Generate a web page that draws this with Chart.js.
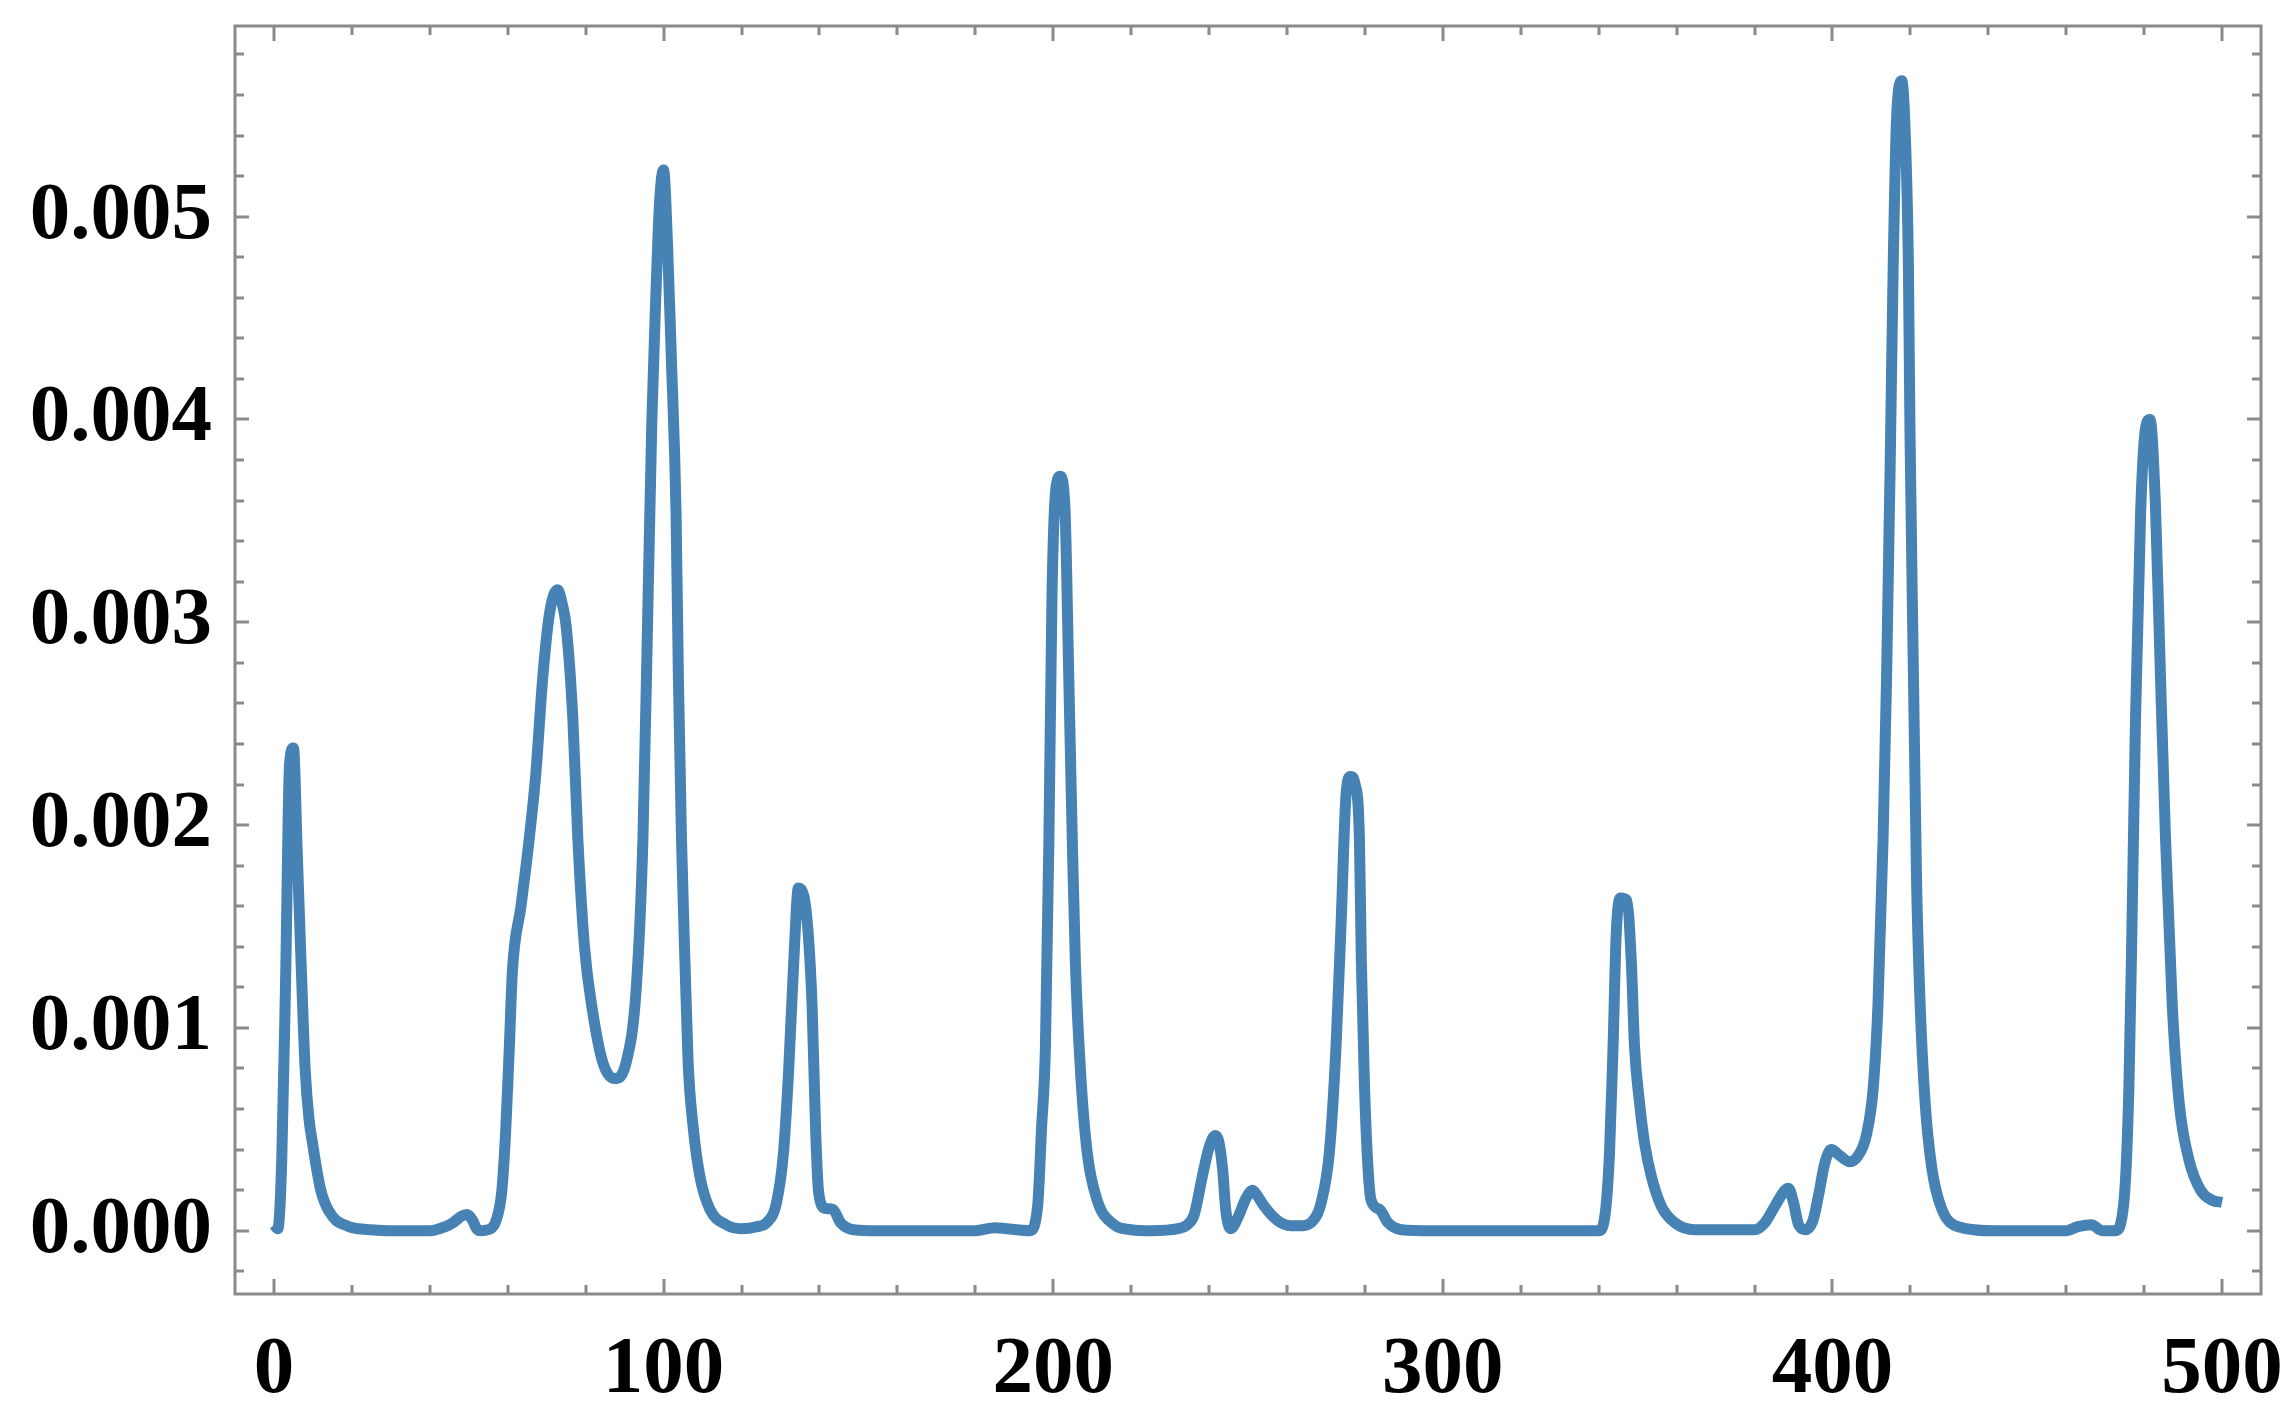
<!DOCTYPE html>
<html lang="en">
<head>
    <meta charset="UTF-8">
    <title>Signal</title>
    <script src="https://cdn.jsdelivr.net/npm/chart.js"></script>
    <style>
        body { margin: 0; background: #fff; }
        #wrap { width: 2296px; height: 1412px; }
    </style>
</head>
<body>
    <div id="wrap">
        <canvas id="signalChart" width="2296" height="1412"></canvas>
    </div>

    <script>
        // values (y in absolute units)
        const xValues = [
            0, 1, 2, 3, 4, 5, 6, 7, 8, 9, 10, 11, 12, 13, 14, 16, 18, 20, 25, 30,
            40, 44, 46, 48, 49.5, 51, 52, 53, 55, 57, 58.5, 59.5, 60.4, 61.2, 63.4, 65.5, 67.2, 69, 70.7, 72.8,
            74, 75, 76.7, 78, 79.7, 81.8, 84.4, 87.4, 90.4, 93, 94.7, 96, 97, 98, 99, 100, 101, 102, 103.2, 103.8,
            104.6, 105.5, 106.3, 107.6, 109.3, 111.9, 116, 120, 124, 126.5, 129, 130.8, 132.1, 133.4, 134.6, 136, 138.1, 139, 139.8, 141.5,
            143.5, 145.4, 148.8, 155, 180, 185, 188, 194, 196, 197, 198, 198.9, 199.7, 200.7, 201.8, 203, 204, 204.9, 205.7, 207,
            208.7, 211.3, 215.6, 220, 225, 232, 234.5, 236.2, 238.3, 240, 241.6, 242.5, 243.5, 244.3, 245.6, 247.3, 249.5, 251.2, 252.5, 254.2,
            257.6, 261, 264, 266.2, 268.8, 270.9, 272.6, 273.9, 275.2, 276.3, 277.5, 278.6, 279.1, 279.9, 280.8, 281.6, 283.8, 285.9, 289.4, 297,
            340, 341.5, 342.8, 343.7, 344.5, 345.6, 347.2, 348.4, 349.2, 350.5, 351.8, 353.5, 356.1, 359.5, 364.7, 380, 382.7, 385.2, 387.8, 388.7,
            390, 391.3, 393, 395, 396.5, 398, 399.7, 401.9, 404.5, 406.6, 408.7, 410.5, 411.7, 413, 413.9, 414.8, 415.6, 416.5, 417.8, 418.8,
            419.5, 419.9, 420.8, 421.6, 422.5, 423.8, 425.5, 428, 432.3, 442, 460, 463, 466.5, 469.2, 472.6, 474.8, 476.1, 476.9, 477.8, 479.1,
            480.4, 481.5, 482.9, 484.2, 485.5, 487.2, 489, 491.5, 494.5, 497.5, 500
        ];
        const yValues = [
            0.00003, 0.00001, 0.00035, 0.00125, 0.0023, 0.00238, 0.00185, 0.0013, 0.0008, 0.00055, 0.00042, 0.0003, 0.0002, 0.00014, 0.0001, 0.00005, 0.00003, 0.000015, 0.000005, 0,
            0, 0.00002, 0.00004, 0.00007, 0.00008, 0.00005, 0.00001, 0, 0.000005, 0.00005, 0.0002, 0.0005, 0.0009, 0.00128, 0.0016, 0.00193, 0.00225, 0.00273, 0.00304, 0.00316,
            0.00309, 0.00298, 0.00253, 0.00193, 0.0014, 0.00108, 0.00083, 0.00075, 0.00083, 0.0012, 0.00193, 0.0031, 0.004, 0.0046, 0.00508, 0.00523, 0.00487, 0.0043, 0.00354, 0.00273,
            0.00193, 0.00132, 0.00083, 0.00051, 0.00027, 0.000105, 0.00003, 0.00001, 0.00002, 0.00004, 0.00014, 0.00039, 0.00079, 0.00132, 0.00169, 0.00165, 0.00112, 0.00051, 0.00019, 0.00011,
            0.000105, 0.00004, 0.000005, 0, 0, 0.000015, 0.00001, 0, 0.00012, 0.0005, 0.0009, 0.00193, 0.00314, 0.00366, 0.00372, 0.00357, 0.00273, 0.00193, 0.00132, 0.00079,
            0.00039, 0.00015, 0.00003, 0.000005, 0, 0.00001, 0.00003, 0.00008, 0.00027, 0.00041, 0.00047, 0.00044, 0.0003, 0.0001, 0.00001, 0.00006, 0.00016, 0.0002, 0.00017, 0.00012,
            0.00005, 0.000025, 0.000025, 0.00004, 0.00014, 0.00039, 0.00091, 0.00152, 0.00216, 0.00224, 0.0022, 0.00193, 0.00132, 0.00071, 0.00031, 0.00015, 0.000105, 0.00004, 0.000005, 0,
            0, 0.00006, 0.00039, 0.00091, 0.00146, 0.00164, 0.00163, 0.00132, 0.00091, 0.00063, 0.00043, 0.00027, 0.00012, 0.00004, 0.000005, 0.000005, 0.00004, 0.00012, 0.0002, 0.00021,
            0.00014, 0.00003, 0.000005, 0.00005, 0.00018, 0.00033, 0.0004, 0.00037, 0.00034, 0.00037, 0.00047, 0.00071, 0.00112, 0.00193, 0.00273, 0.00375, 0.00476, 0.0055, 0.00567, 0.00535,
            0.00476, 0.00395, 0.00273, 0.00172, 0.00112, 0.00063, 0.00031, 0.00011, 0.00002, 0, 0, 0.00002, 0.00003, 0, 0, 0.00014, 0.00071, 0.00152, 0.00253, 0.00354,
            0.00396, 0.004, 0.00358, 0.00273, 0.00193, 0.00112, 0.00063, 0.00035, 0.0002, 0.00015, 0.00014
        ];

        const xTickValues = [0, 100, 200, 300, 400, 500];
        const xTickLabels = ["0", "100", "200", "300", "400", "500"];
        const yTickValues = [0, 0.001, 0.002, 0.003, 0.004, 0.005];
        const yTickLabels = ["0.000", "0.001", "0.002", "0.003", "0.004", "0.005"];

        const xMinorStep = 20;
        const yMinorStep = 0.0002;

        const frameColor = "#8a8a8a";
        const lineColor = "#4682b4";
        const labelFont = { family: "'Liberation Serif', 'Times New Roman', serif", size: 81, weight: "bold" };

        // frame with inward ticks on all four sides
        const framePlugin = {
            id: "frameTicks",
            afterDraw(chart) {
                const ctx = chart.ctx;
                const area = chart.chartArea;
                const xs = chart.scales.x;
                const ys = chart.scales.y;
                ctx.save();
                ctx.strokeStyle = frameColor;
                ctx.lineWidth = 3;
                ctx.lineCap = "butt";

                for (let v = -20; v <= 520; v += xMinorStep) {
                    if (v < xs.min || v > xs.max) continue;
                    const px = Math.round(xs.getPixelForValue(v));
                    const len = v % 100 === 0 ? 15 : 9;
                    ctx.beginPath();
                    ctx.moveTo(px, area.bottom);
                    ctx.lineTo(px, area.bottom - len);
                    ctx.moveTo(px, area.top);
                    ctx.lineTo(px, area.top + len);
                    ctx.stroke();
                }

                for (let i = -5; i <= 35; i++) {
                    const v = i * yMinorStep;
                    if (v < ys.min || v > ys.max) continue;
                    const py = Math.round(ys.getPixelForValue(v));
                    const len = i % 5 === 0 ? 14 : 9;
                    ctx.beginPath();
                    ctx.moveTo(area.left, py);
                    ctx.lineTo(area.left + len, py);
                    ctx.moveTo(area.right, py);
                    ctx.lineTo(area.right - len, py);
                    ctx.stroke();
                }

                ctx.strokeRect(area.left, area.top, area.right - area.left, area.bottom - area.top);
                ctx.restore();
            }
        };

        const points = xValues.map((x, i) => ({ x: x, y: yValues[i] }));

        new Chart(document.getElementById("signalChart"), {
            type: "scatter",
            data: {
                datasets: [{
                    data: points,
                    showLine: true,
                    borderColor: lineColor,
                    borderWidth: 11,
                    borderJoinStyle: "miter",
                    cubicInterpolationMode: "monotone",
                    pointRadius: 0,
                    fill: false,
                }],
            },
            options: {
                responsive: false,
                animation: false,
                devicePixelRatio: 1,
                layout: { padding: { left: 0, right: 35, top: 26, bottom: 0 } },
                plugins: {
                    legend: { display: false },
                    tooltip: { enabled: false },
                },
                scales: {
                    x: {
                        type: "linear",
                        min: -10,
                        max: 510,
                        grid: { display: false, drawTicks: false },
                        border: { display: false },
                        afterBuildTicks: axis => {
                            axis.ticks = xTickValues.map(v => ({ value: v }));
                        },
                        afterFit: axis => {
                            axis.height = 118;
                            axis.paddingLeft = 0;
                            axis.paddingRight = 0;
                        },
                        ticks: {
                            color: "#000",
                            font: labelFont,
                            padding: 28,
                            maxRotation: 0,
                            autoSkip: false,
                            callback: v => xTickLabels[xTickValues.indexOf(v)],
                        },
                    },
                    y: {
                        type: "linear",
                        min: -0.000312,
                        max: 0.00594,
                        grid: { display: false, drawTicks: false },
                        border: { display: false },
                        afterBuildTicks: axis => {
                            axis.ticks = yTickValues.map(v => ({ value: v }));
                        },
                        afterFit: axis => {
                            axis.width = 235;
                            axis.paddingTop = 0;
                            axis.paddingBottom = 0;
                        },
                        ticks: {
                            color: "#000",
                            font: labelFont,
                            padding: 23,
                            autoSkip: false,
                            callback: v => yTickLabels[yTickValues.indexOf(v)],
                        },
                    },
                },
            },
            plugins: [framePlugin],
        });
    </script>
</body>
</html>
